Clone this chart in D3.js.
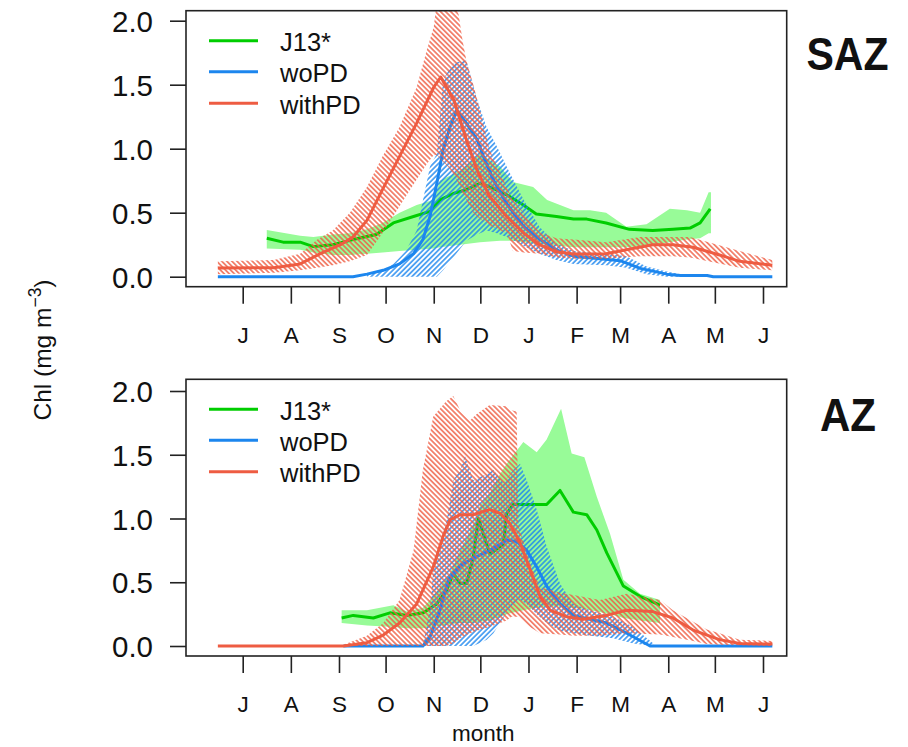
<!DOCTYPE html>
<html><head><meta charset="utf-8">
<script src="https://cdn.jsdelivr.net/npm/d3@7"></script>
<style>body{margin:0;background:#fff}svg{display:block}text{font-family:"Liberation Sans",Arial,sans-serif;fill:#111}</style>
</head><body><svg id="c" width="908" height="747"></svg>
<script>
// ---- axes / labels ----
const monthTicks = [0,31,62,92,123,153,184,215,243,274,304,335]; // days since 1 July
const monthLabels = ["J","A","S","O","N","D","J","F","M","A","M","J"];
const yTicks = [0,0.5,1,1.5,2];
const seriesNames = ["J13*","woPD","withPD"];
const seriesColors = ["#00CD00","#1C86EE","#EE5C42"];
const bandFill = "#98FB98";
const panelNames = ["SAZ","AZ"];

// ---- SAZ ----
const saz_j13_x = [15.5,26,37,45.5,58,71,86,97,110,120.6,127,135.6,144,152.8,161.4,170,180.7,189,202,213,221.5,234,249,264,277,288,294.5,301];
const saz_j13   = [0.30,0.27,0.27,0.235,0.25,0.29,0.33,0.42,0.47,0.51,0.6,0.65,0.68,0.73,0.69,0.64,0.56,0.49,0.47,0.45,0.45,0.42,0.37,0.36,0.37,0.38,0.42,0.53];
const saz_j13_bx = [15.5,37,45.5,58,69,80,90,101,112,122.7,127,140,152.8,165.7,174,187,196,213,223.6,234,247,260,275,286,294.5,300,301.5];
const saz_j13_hi = [0.365,0.32,0.31,0.33,0.34,0.37,0.42,0.5,0.56,0.6,0.75,0.83,0.96,0.86,0.74,0.70,0.6,0.52,0.52,0.5,0.39,0.41,0.53,0.52,0.5,0.66,0.66];
const saz_j13_lo = [0.22,0.21,0.19,0.17,0.17,0.18,0.19,0.2,0.21,0.22,0.23,0.25,0.27,0.28,0.28,0.26,0.25,0.23,0.23,0.23,0.23,0.24,0.27,0.29,0.3,0.34,0.34];

const saz_wo_x = [-16,71,80,90.5,101,110,116,120.6,125,129,133.5,137.8,144,151,155,161.4,170,181,191.4,202,213,230,243,256,273,282,299,303,341];
const saz_wo   = [0,0,0.02,0.05,0.10,0.18,0.29,0.47,0.73,0.99,1.17,1.30,1.2,1.07,0.94,0.755,0.57,0.39,0.29,0.21,0.16,0.14,0.125,0.065,0.02,0.01,0.01,0,0];
const saz_wo_bx = [80,90,97,105,112,120.6,125,129,135.6,144,151,157,163.6,172,181,191,202,213,234,247,260,273,282];
const saz_wo_hi = [0.02,0.05,0.1,0.2,0.36,0.86,0.96,1.54,1.67,1.69,1.38,1.17,1.02,0.81,0.6,0.39,0.26,0.2,0.18,0.16,0.08,0.04,0.02];
const saz_wo_lo = [0,0,0,0,0,0,0,0.05,0.15,0.28,0.33,0.36,0.34,0.3,0.24,0.18,0.13,0.1,0.09,0.07,0.02,0,0];

const saz_with_x = [-16,20,37,50,63,71,80,90,101,112,123,127.5,136,144,151,159,170,181,191,202,213,234,247,264,277,290,307,320,341];
const saz_with   = [0.068,0.07,0.10,0.18,0.25,0.31,0.44,0.68,0.94,1.2,1.48,1.56,1.38,1.07,0.83,0.625,0.47,0.34,0.25,0.195,0.177,0.18,0.21,0.25,0.25,0.23,0.17,0.12,0.09];
const saz_with_bx = [-16,20,37,48,58,69,80,90,101,112,118.5,123,125,133,139,141.5,144,148.5,152.8,159,170,174,181,191,202,213,234,256,277,288,320,341];
const saz_with_hi = [0.12,0.13,0.18,0.29,0.36,0.5,0.70,0.94,1.17,1.48,1.77,1.95,2.15,2.2,2.05,1.85,1.69,1.5,1.3,0.99,0.7,0.6,0.5,0.35,0.3,0.29,0.27,0.31,0.31,0.31,0.2,0.13];
const saz_with_lo = [0.02,0.03,0.05,0.07,0.09,0.12,0.17,0.34,0.55,0.76,0.88,0.95,0.95,0.85,0.73,0.65,0.6,0.5,0.45,0.4,0.34,0.2,0.19,0.18,0.15,0.14,0.14,0.16,0.16,0.15,0.07,0.05];

// ---- AZ ----
const az_j13_x = [63.7,71.2,84.1,94.8,105.6,116.3,124.9,131.4,135.6,140,144.2,148.5,151.7,154.9,159.2,167.8,170,174.2,195.7,204.3,212.9,221.5,228,234.4,245.1,255.8,268.7];
const az_j13   = [0.22,0.24,0.22,0.26,0.24,0.26,0.33,0.44,0.57,0.49,0.49,0.70,1.0,0.88,0.72,0.80,1.04,1.11,1.11,1.22,1.05,1.03,0.91,0.73,0.47,0.39,0.32];
const az_j13_bx = [63.7,80,97,105.6,116,122.7,133.5,140,148.5,152.8,159.2,165.7,170,180.7,189.3,195.7,205,211.8,220,228,236.5,245.1,255.8,268.7];
const az_j13_hi = [0.28,0.28,0.32,0.27,0.3,0.39,0.57,0.75,0.95,1.1,1.2,1.35,1.43,1.60,1.52,1.62,1.86,1.51,1.48,1.17,0.88,0.52,0.41,0.36];
const az_j13_lo = [0.18,0.16,0.15,0.14,0.14,0.15,0.17,0.18,0.18,0.19,0.2,0.23,0.25,0.28,0.3,0.31,0.31,0.3,0.29,0.27,0.25,0.22,0.2,0.18];

const az_wo_x = [64.8,116,120.6,127,132.4,140,148.5,159.2,170,176.4,182.9,189.3,195.7,204.3,212.9,223.6,234.4,247.3,262.3,341];
const az_wo   = [0,0,0.07,0.28,0.52,0.63,0.69,0.75,0.83,0.82,0.75,0.62,0.47,0.33,0.24,0.21,0.18,0.1,0,0];
const az_wo_bx = [116,120.6,122.7,131.4,135.6,140,143.1,148.5,157.1,161.4,167.8,174.2,178.6,182.9,189.3,195.7,204.3,212.9,223.6,238.7,251.5,264.4];
const az_wo_hi = [0,0.3,0.59,0.99,1.30,1.38,1.49,1.30,1.35,1.38,1.28,1.38,1.43,1.30,1.07,0.78,0.49,0.33,0.28,0.23,0.15,0.02];
const az_wo_lo = [0,0,0,0,0,0,0,0,0.05,0.1,0.22,0.33,0.36,0.33,0.25,0.18,0.12,0.1,0.08,0.06,0.02,0];

const az_with_x = [-16,64.8,80,90.5,101,112,122.7,129,133.5,140,148.5,159,165.7,172,178.6,185,191.4,198,208.6,219,234,247,264,277,290,307,320,341];
const az_with   = [0,0,0.026,0.086,0.18,0.33,0.62,0.86,0.99,1.03,1.03,1.07,1.04,0.96,0.81,0.6,0.39,0.28,0.23,0.21,0.24,0.28,0.27,0.22,0.125,0.05,0.02,0.015];
const az_with_bx = [64.8,80,90.5,101,110,116,122.7,131,135.6,140,146.4,150.7,159,170,173,176.4,177.5,185,191.4,204,213,230,247,268.7,277,290,298.8,307,320,341];
const az_with_hi = [0.01,0.08,0.18,0.36,0.75,1.38,1.80,1.92,1.96,1.85,1.77,1.82,1.89,1.88,1.85,1.84,0.95,0.65,0.46,0.42,0.4,0.36,0.41,0.36,0.28,0.19,0.13,0.1,0.05,0.04];
const az_with_lo = [0,0,0,0,0,0,0,0,0.02,0.06,0.1,0.12,0.15,0.2,0.23,0.23,0.23,0.15,0.1,0.09,0.08,0.08,0.1,0.09,0.07,0.04,0.015,0.01,0.005,0];

// ---- build ----
const zip = (xs, ys) => xs.map((x,i)=>({x, y:ys[i]}));
const zipB = (xs, hi, lo) => xs.map((x,i)=>({x, hi:hi[i], lo:lo[i]}));

const panels = [
  { name: panelNames[0], top: 10.7, bottom: 286.7, y0: 276.7, y2: 20.7,
    lines: [zip(saz_j13_x,saz_j13), zip(saz_wo_x,saz_wo), zip(saz_with_x,saz_with)],
    bands: [zipB(saz_j13_bx,saz_j13_hi,saz_j13_lo), zipB(saz_wo_bx,saz_wo_hi,saz_wo_lo), zipB(saz_with_bx,saz_with_hi,saz_with_lo)],
    labelX: 847.5, labelY: 70, labelW: 82 },
  { name: panelNames[1], top: 379.3, bottom: 656, y0: 646, y2: 391,
    lines: [zip(az_j13_x,az_j13), zip(az_wo_x,az_wo), zip(az_with_x,az_with)],
    bands: [zipB(az_j13_bx,az_j13_hi,az_j13_lo), zipB(az_wo_bx,az_wo_hi,az_wo_lo), zipB(az_with_bx,az_with_hi,az_with_lo)],
    labelX: 848, labelY: 431, labelW: 56 }
];

const svg = d3.select("#c");
const defs = svg.append("defs");
function hatch(id, color, angle){
  const p = defs.append("pattern").attr("id",id).attr("patternUnits","userSpaceOnUse")
    .attr("width",3.6).attr("height",3.6).attr("patternTransform",`rotate(${angle})`);
  p.append("line").attr("x1",0.9).attr("y1",0).attr("x2",0.9).attr("y2",3.6)
    .attr("stroke",color).attr("stroke-width",1.4);
}
hatch("hBlue", seriesColors[1], 45);
hatch("hRed", seriesColors[2], -45);
const bandFills = [bandFill, "url(#hBlue)", "url(#hRed)"];

const boxL = 186, boxR = 786.7;
const x = d3.scaleLinear().domain([monthTicks[0], monthTicks[monthTicks.length-1]]).range([242.7, 763]);

panels.forEach((P, pi) => {
  const y = d3.scaleLinear().domain([0,2]).range([P.y0, P.y2]);
  const g = svg.append("g");
  const cid = "clip"+pi;
  defs.append("clipPath").attr("id",cid).append("rect")
    .attr("x",boxL).attr("y",P.top).attr("width",boxR-boxL).attr("height",P.bottom-P.top);
  const plot = g.append("g").attr("clip-path",`url(#${cid})`);
  const area = d3.area().x(d=>x(d.x)).y0(d=>y(d.lo)).y1(d=>y(d.hi));
  const line = d3.line().x(d=>x(d.x)).y(d=>y(d.y));
  for (let s=0; s<3; s++){
    plot.append("path").attr("d", area(P.bands[s])).attr("fill", bandFills[s]).attr("stroke","none");
    plot.append("path").attr("d", line(P.lines[s])).attr("fill","none")
      .attr("stroke", seriesColors[s]).attr("stroke-width",3).attr("stroke-linejoin","round");
  }
  // box
  g.append("rect").attr("x",boxL).attr("y",P.top).attr("width",boxR-boxL).attr("height",P.bottom-P.top)
    .attr("fill","none").attr("stroke","#222").attr("stroke-width",1.6);
  // y axis
  const ya = g.append("g").attr("transform",`translate(${boxL},0)`)
    .call(d3.axisLeft(y).tickValues(yTicks).tickFormat(d3.format(".1f")).tickSize(16).tickPadding(17));
  ya.select(".domain").remove();
  ya.selectAll("line").attr("stroke","#222").attr("stroke-width",1.6);
  ya.selectAll("text").attr("font-size",29.5).attr("fill","#111").attr("dy","0.36em").attr("font-family","Liberation Sans, Arial, sans-serif");
  // x axis
  const xa = g.append("g").attr("transform",`translate(0,${P.bottom})`)
    .call(d3.axisBottom(x).tickValues(monthTicks).tickFormat((d,i)=>monthLabels[i]).tickSize(17).tickPadding(0));
  xa.select(".domain").remove();
  xa.selectAll("line").attr("stroke","#222").attr("stroke-width",1.6);
  xa.selectAll("text").attr("font-size",22.5).attr("fill","#111").attr("dy",null)
    .attr("y",56.3).attr("font-family","Liberation Sans, Arial, sans-serif");
  // legend
  const lg = g.append("g");
  const ly = [P.top+30, P.top+61, P.top+92.5];
  seriesNames.forEach((n,i)=>{
    lg.append("line").attr("x1",209).attr("x2",258).attr("y1",ly[i]).attr("y2",ly[i])
      .attr("stroke",seriesColors[i]).attr("stroke-width",3);
    lg.append("text").attr("x",280).attr("y",ly[i]+10.5).attr("font-size",25.5).text(n);
  });
  // panel label
  g.append("text").attr("x",P.labelX).attr("y",P.labelY).attr("text-anchor","middle")
    .attr("font-family","Lato, 'Liberation Sans', sans-serif").attr("font-weight",900)
    .attr("font-size",46).attr("textLength",P.labelW).attr("lengthAdjust","spacingAndGlyphs").text(P.name);
});

// axis titles
svg.append("text").attr("x",483.3).attr("y",741).attr("text-anchor","middle").attr("font-size",22.5).text("month");
const yt = svg.append("text").attr("transform","translate(51,350) rotate(-90)").attr("text-anchor","middle").attr("font-size",24.5);
yt.append("tspan").text("Chl (mg m");
yt.append("tspan").attr("font-size",17.5).attr("dy",-10).text("\u22123");
yt.append("tspan").attr("dy",10).text(")");
</script></body></html>
